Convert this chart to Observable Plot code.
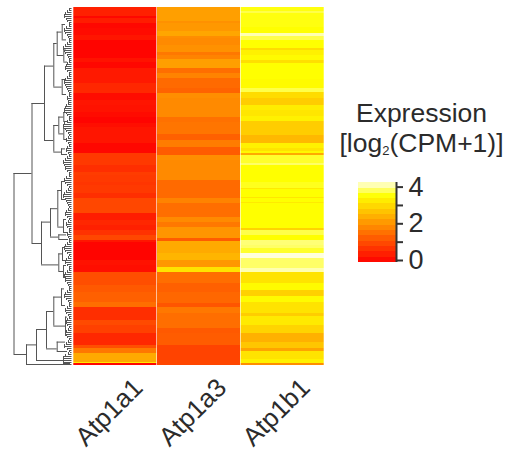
<!DOCTYPE html>
<html>
<head>
<meta charset="utf-8">
<script src="https://cdn.jsdelivr.net/npm/d3@7"></script>
<script src="https://cdn.jsdelivr.net/npm/@observablehq/plot@0.6"></script>
<style>
html,body{margin:0;padding:0;background:#fff;width:506px;height:458px;overflow:hidden}
#wrap{position:relative;width:506px;height:458px;font-family:"Liberation Sans",Arial,sans-serif;color:#2b2b2b}
#wrap svg{position:absolute;background:transparent}
.ttl{position:absolute;left:328.5px;width:186px;text-align:center;font-size:26.5px;line-height:30px;white-space:nowrap}
.ttl sub{font-size:13px;line-height:0;vertical-align:-3px}
</style>
</head>
<body>
<div id="wrap">
<div class="ttl" style="top:98px">Expression</div>
<div class="ttl" style="top:128px">[log<sub>2</sub>(CPM+1)]</div>
</div>
<script>
const genes = ["Atp1a1","Atp1a3","Atp1b1"];
const colWidth = 83.67;
const rowCount = 179;

// Run ends (row position) and log2(CPM+1) values, per gene
const atp1a1Ends = [4.5,5.7,8.2,10.7,14,16.5,25.7,27.3,30.7,38.2,43.2,46.5,49,52.3,54.8,57.8,59.8,68.2,73.2,79,82.3,84,87.3,89,93.2,95.3,103.2,106.5,109,111.5,114,116.5,117.3,126.5,129,132.3,139,142.3,147.3,149.8,156.5,159,163.2,169,170.7,173.2,177.3,178,179];
const atp1a1Vals = [.45,.1,.4,.1,.15,.3,.05,.25,.1,.35,.55,.15,.3,.25,.15,.05,.2,.3,.1,.8,.65,.85,.8,.75,.8,.65,1,.4,.55,.45,.7,1,.3,.05,.25,.2,1.1,1.25,1.35,1.55,.65,1.05,.9,.55,1.1,1.7,2.4,3.3,.1];

const atp1a3Ends = [6.8,7.8,11.8,14.5,15.7,19,22.3,24,26.2,30.3,32.8,35.7,40.7,43.2,45.7,54.8,57.7,63.7,66.5,70.2,74,76.5,86.5,95.3,98.2,104.8,107.3,109.8,115.7,117,123.2,126.5,129.8,132.7,138.2,142.3,148.2,149.8,153.2,160.7,163.2,169,176.5,179];
const atp1a3Vals = [2.25,2.05,2.15,2.35,2,1.95,2.05,1.7,1.85,2.25,1.55,1.85,1.5,1.4,2,1.95,1.6,1.65,1.35,1.75,1.3,2,1.95,1.5,1.85,1.55,1.95,1.7,2.1,1.3,2.4,2.55,2.15,3.2,1.55,1.35,1.45,1.2,1.7,1.55,1.25,1.3,.95,1];

const atp1b1Ends = [1.8,3.2,10.2,12.8,14.5,16.5,20.7,21.5,24,26.5,28.2,36.2,40.7,42.3,45.7,49,51.5,54.5,56.8,64,68.2,70.7,72,73.2,74,77.8,79,87.3,90.7,91,94.8,95.7,97.3,98.2,110.7,111.5,114,116.5,119,120.7,123.2,125.7,130.7,132.3,138.2,141.5,144.3,147.3,153.2,154.5,159,163.2,167.3,170.7,171.8,175.8,178,179];
const atp1b1Vals = [3.65,3.85,3.65,3.6,4.2,3.85,3.6,3.1,3.4,3.55,3.15,3.6,3.55,3.85,3.1,2.9,3.35,3.25,3.4,2.9,2.6,3.4,3.2,3.5,2.4,3.75,3.95,3.6,3.7,3.3,3.6,3.25,3.6,3.3,3.6,3,3.85,3.6,4,3.95,3.75,4.35,3.95,4.2,3.2,3.55,2.95,3.55,3.2,2.9,3.3,3,2.5,2.8,2.3,3.2,3.4,2];

// Dendrogram: [merge height, upper row, lower row, upper child height, lower child height]
const treeNodes = [
[59.5,83,173.5,41.5,47],
[41.5,48,118,29,32],
[47,168.7,178.5,37,3],
[29,29.3,66.5,19.7,19.7],
[32,107.3,128.7,23,14.7],
[19.7,18,39.8,16.3,11.3],
[19.7,59,72.3,14.7,12],
[16.3,12.3,24,11.3,9.7],
[11.3,8.5,16.2,8,7],
[9.7,20.7,27.3,7,6],
[11.3,36,43.5,8,7],
[14.7,54.8,63.2,9.7,9.7],
[9.7,52.5,57,7,6],
[9.7,60.5,66,7,7],
[12,70.7,73.5,8,6],
[23,100.6,114.8,15.7,14.7],
[14.7,123.2,132,11,10],
[15.7,91.5,109.8,12,10],
[14.7,113.7,116,7,5],
[12,87,96,9,8],
[10,106,112.5,7,6],
[11,120,126.5,8,7],
[10,129,135,7,7],
[37,161,176.5,27,10],
[27,152,170.7,19.7,16.3],
[19.7,144.8,159.3,12,8],
[12,140.7,149,9,8],
[8,154.8,164,6,6],
[16.3,167.3,172,8,6],
[10,174.5,178,5,3]
];

// Height at which each leaf row joins its neighbours
const leafH = [3,4,6,8,9,7,6,4,3,4,7,9,8,6,5,4,3,4,6,8,10,9,8,6,5,4,3,4,6,7,8,6,4,3,
4,6,8,9,8,7,6,5,4,3,4,6,5,4,5,7,8,9,7,6,4,3,4,6,9,10,8,7,5,4,3,5,7,5,3,4,6,7,5,3,
4,6,8,10,9,7,8,6,4,3,4,7,9,8,6,4,3,5,7,9,10,8,7,6,5,4,3,5,7,8,6,4,3,5,7,6,4,3,4,6,
5,4,3,4,6,8,9,8,6,4,3,5,7,8,6,4,3,4,6,8,9,7,8,6,5,4,3,4,6,8,9,7,5,4,3,4,6,8,7,5,
3,4,6,7,6,4,3,5,7,8,6,4,3,5,7,9,6,4,3,5,8,10,9,10,9];

// Legend colour levels (lower bound of each band)
const legendLevels = [0,.29,.58,.87,1.16,1.45,1.74,2.03,2.32,2.61,2.9,3.19,3.48,3.77,4.06];
const legendTop = 4.36;
const legendTicks = [0,1,2,3,4];

const colorScale = {type:"linear", domain:[0,3.6,4.36], range:["#ff0000","#ffff00","#ffffe0"], clamp:true};

const snap = r => Math.round(r*2)/2;
const cells = [];
[[atp1a1Ends,atp1a1Vals],[atp1a3Ends,atp1a3Vals],[atp1b1Ends,atp1b1Vals]].forEach(([ends,vals],c)=>{
  ends.forEach((e,i)=>cells.push({x1:c*colWidth,x2:(c+1)*colWidth,y1:i?snap(ends[i-1]):0,y2:snap(e),v:vals[i]}));
});

const vLines=[], hLines=[];
treeNodes.forEach(([h,t,b,ht,hb])=>{
  vLines.push({x:h,y1:t,y2:b});
  hLines.push({y:t,x1:ht,x2:h},{y:b,x1:hb,x2:h});
});
leafH.forEach((h,i)=>{
  hLines.push({y:i+.5,x1:1.5,x2:h});
  if(i<leafH.length-1) vLines.push({x:Math.max(h,leafH[i+1]),y1:i+.5,y2:i+1.5});
});

const main = Plot.plot({
  width:506,height:458,marginLeft:0,marginRight:182,marginTop:7,marginBottom:93,
  style:{fontFamily:"'Liberation Sans',Arial,sans-serif",color:"#2b2b2b",background:"transparent"},
  x:{domain:[-73,251],axis:null},
  y:{domain:[0,rowCount],reverse:true,axis:null},
  color:colorScale,
  marks:[
    Plot.rect(cells,{x1:"x1",x2:"x2",y1:"y1",y2:"y2",fill:"v",insetLeft:.3,insetRight:.3}),
    Plot.ruleY(hLines,{y:"y",x1:d=>-d.x1,x2:d=>-d.x2,stroke:"#555",strokeWidth:1}),
    Plot.ruleX(vLines,{x:d=>-d.x,y1:"y1",y2:"y2",stroke:"#555",strokeWidth:1}),
    Plot.axisX({ticks:genes.map((g,i)=>(i+.5)*colWidth),tickFormat:(d,i)=>genes[i],tickRotate:-45,tickSize:0,fontSize:26,dx:23,dy:6,anchor:"bottom",label:null})
  ]
});
main.style.left="0";main.style.top="0";
document.getElementById("wrap").appendChild(main);

const bands = legendLevels.map((l,i)=>({y1:l,y2:i<legendLevels.length-1?legendLevels[i+1]:legendTop,v:(l+(i<legendLevels.length-1?legendLevels[i+1]:legendTop))/2}));
const legend = Plot.plot({
  width:90,height:100,marginLeft:4,marginRight:48,marginTop:10,marginBottom:10,
  style:{fontFamily:"'Liberation Sans',Arial,sans-serif",color:"#2b2b2b",background:"transparent",overflow:"visible"},
  x:{domain:[0,1],axis:null},
  y:{domain:[0,legendTop],axis:null},
  color:colorScale,
  marks:[
    Plot.rect(bands,{x1:0,x2:1,y1:"y1",y2:"y2",fill:"v",shapeRendering:"crispEdges"}),
    Plot.ruleX([1],{y1:0,y2:legendTop,stroke:"#333",strokeWidth:2}),
    Plot.axisY({anchor:"right",ticks:legendTicks,tickFormat:d=>d%2?"":String(d),tickSize:6,tickPadding:6,fontSize:27,strokeWidth:2,stroke:"#333",dy:-2,label:null})
  ]
});
legend.style.left="354px";legend.style.top="172px";
document.getElementById("wrap").appendChild(legend);
</script>
</body>
</html>
